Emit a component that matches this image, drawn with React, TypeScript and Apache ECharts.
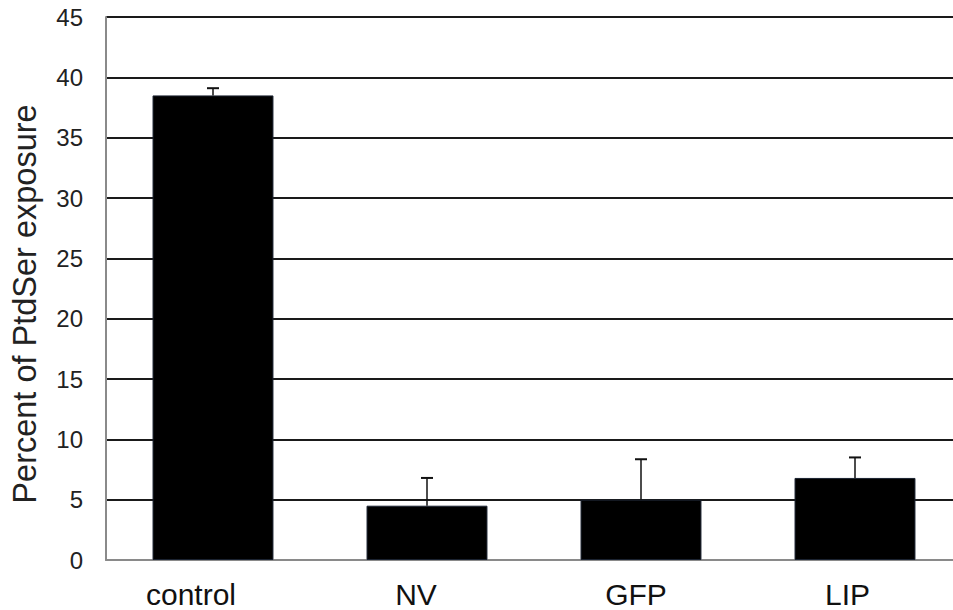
import React, { useEffect, useRef } from "react";
import * as echarts from "echarts";

const categories = ["control", "NV", "GFP", "LIP"];
const values = [38.5, 4.5, 5.0, 6.8];
const errors = [0.6, 2.3, 3.35, 1.7];
const yTicks = [0, 5, 10, 15, 20, 25, 30, 35, 40, 45];
// leftward shift (px) of each category label in the reference
const labelShift: Record<string, number> = { control: 22, NV: 11, GFP: 5, LIP: 7.5 };

export default function App() {
  const ref = useRef<HTMLDivElement>(null);
  useEffect(() => {
    if (!ref.current) return;
    const chart = echarts.init(ref.current, null, { renderer: "svg" });
    const font = "Liberation Sans, Arial, sans-serif";
    const rich: Record<string, any> = {};
    categories.forEach((c, i) => {
      rich["c" + i] = {
        color: "#111",
        fontSize: 30,
        lineHeight: 24,
        fontFamily: font,
        padding: [0, 2 * labelShift[c], 0, 0],
      };
    });
    chart.setOption({
      animation: false,
      backgroundColor: "#ffffff",
      grid: { left: 106, top: 17, bottom: 50, right: 4, containLabel: false },
      xAxis: {
        type: "category",
        data: categories,
        axisLine: { show: true, lineStyle: { color: "#8a8a8a", width: 2 } },
        axisTick: { show: false },
        axisLabel: {
          color: "#111",
          fontSize: 30,
          lineHeight: 24,
          fontFamily: font,
          margin: 22,
          formatter: (v: string) => `{c${categories.indexOf(v)}|${v}}`,
          rich,
        },
        splitLine: { show: false },
      },
      yAxis: {
        type: "value",
        min: yTicks[0],
        max: yTicks[yTicks.length - 1],
        interval: 5,
        axisLine: { show: true, lineStyle: { color: "#8a8a8a", width: 2 } },
        axisTick: { show: false },
        axisLabel: { color: "#222", fontSize: 24, fontFamily: font, margin: 23 },
        splitLine: { show: true, lineStyle: { color: "#1a1a1a", width: 2 } },
      },
      graphic: [
        {
          type: "text",
          x: 25,
          y: 304,
          rotation: Math.PI / 2,
          style: {
            text: "Percent of PtdSer exposure",
            fontSize: 32.5,
            fontFamily: font,
            fill: "#222",
            align: "center",
            verticalAlign: "middle",
          },
        },
      ],
      series: [
        {
          type: "bar",
          data: values,
          barWidth: "56.5%",
          itemStyle: { color: "#000000", borderColor: "#1a2230", borderWidth: 1 },
          z: 2,
        },
        {
          type: "custom",
          data: values.map((v, i) => [i, v, v + errors[i]]),
          z: 3,
          renderItem: (params: any, api: any) => {
            const x = api.value(0);
            const lo = api.coord([x, api.value(1)]);
            const hi = api.coord([x, api.value(2)]);
            const cap = 6;
            return {
              type: "group",
              children: [
                {
                  type: "line",
                  shape: { x1: lo[0], y1: lo[1], x2: hi[0], y2: hi[1] },
                  style: { stroke: "#111", lineWidth: 1.5 },
                },
                {
                  type: "line",
                  shape: { x1: hi[0] - cap, y1: hi[1], x2: hi[0] + cap, y2: hi[1] },
                  style: { stroke: "#111", lineWidth: 2 },
                },
              ],
            };
          },
        },
      ],
    });
    return () => chart.dispose();
  }, []);
  return (
    <div style={{ width: 953, height: 610, position: "absolute", left: 0, top: 0, overflow: "hidden" }}>
      <div ref={ref} style={{ width: 966, height: 610 }} />
    </div>
  );
}
